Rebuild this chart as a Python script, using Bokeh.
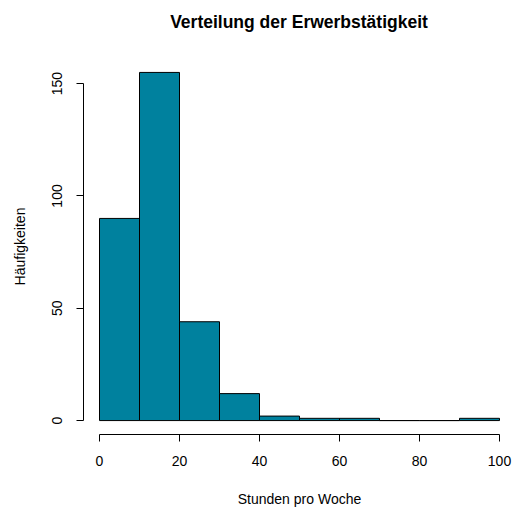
import math
from bokeh.plotting import figure
from bokeh.layouts import column, row
from bokeh.embed import file_html
from bokeh.resources import INLINE
from bokeh.models import FixedTicker, Range1d
from bokeh.core.properties import value

# Data
breaks = [0, 10, 20, 30, 40, 50, 60, 70, 80, 90, 100]
counts = [90, 155, 44, 12, 2, 1, 1, 0, 0, 1]
x_ticks = [0, 20, 40, 60, 80, 100]
y_ticks = [0, 50, 100, 150]
y_tick_labels = ["0", "50", "100", "150"]
title_text = "Verteilung der Erwerbstätigkeit"
xlab = "Stunden pro Woche"
ylab = "Häufigkeiten"

FONT = "Liberation Sans"
x_lo, x_hi = -4, 104
y_lo, y_hi = -6.2, 161.2

W, H = 516, 509
TOP = 58       # space above the plotting region
LEFT = 76      # width of the strip that holds the y labels
BOTTOM = 75

yr = Range1d(y_lo, y_hi)

# ---- title strip ----
t = figure(width=W, height=TOP, output_backend="svg", toolbar_location=None,
           x_range=Range1d(0, W), y_range=Range1d(0, TOP),
           x_axis_type=None, y_axis_type=None,
           min_border_left=0, min_border_right=0, min_border_top=0, min_border_bottom=0)
t.outline_line_color = None
t.grid.visible = False
t.text(x=[298.5], y=[TOP - 21], text=[title_text],
       text_align=value("center"), text_baseline=value("middle"),
       text_font=value(FONT), text_font_size=value("17.5px"),
       text_font_style=value("bold"), text_color=value("black"))

# ---- left strip with y tick labels and y title ----
l = figure(width=LEFT, height=H - TOP, output_backend="svg", toolbar_location=None,
           x_range=Range1d(0, LEFT), y_range=yr,
           x_axis_type=None, y_axis_type=None,
           min_border_left=0, min_border_right=0, min_border_top=0, min_border_bottom=BOTTOM)
l.outline_line_color = None
l.grid.visible = False
l.text(x=[56] * len(y_ticks), y=y_ticks, text=y_tick_labels, angle=math.pi / 2,
       text_align=value("center"), text_baseline=value("middle"),
       text_font=value(FONT), text_font_size=value("14px"), text_color=value("black"))
l.text(x=[19], y=[(y_lo + y_hi) / 2], text=[ylab], angle=math.pi / 2,
       text_align=value("center"), text_baseline=value("middle"),
       text_font=value(FONT), text_font_size=value("14px"), text_color=value("black"))

# ---- main histogram ----
p = figure(width=W - LEFT, height=H - TOP, output_backend="svg", toolbar_location=None,
           x_range=Range1d(x_lo, x_hi), y_range=yr,
           min_border_left=7, min_border_right=1, min_border_top=0, min_border_bottom=BOTTOM)

p.quad(left=breaks[:-1], right=breaks[1:], bottom=0, top=counts,
       fill_color="#00819E", line_color="black", line_width=1)

p.grid.visible = False
p.outline_line_color = None

for ax in (p.xaxis[0], p.yaxis[0]):
    ax.axis_line_color = "black"
    ax.major_tick_line_color = "black"
    ax.minor_tick_line_color = None
    ax.major_tick_in = 0
    ax.major_tick_out = 7
    ax.major_label_text_font = FONT
    ax.major_label_text_font_size = "14px"
    ax.major_label_text_color = "black"
    ax.axis_label_text_font = FONT
    ax.axis_label_text_font_size = "14px"
    ax.axis_label_text_font_style = "normal"
    ax.axis_label_text_color = "black"

p.xaxis.ticker = FixedTicker(ticks=x_ticks)
p.xaxis.bounds = (0, 100)
p.xaxis.axis_label = xlab
p.xaxis.major_label_standoff = 14
p.xaxis.axis_label_standoff = 22

p.yaxis.ticker = FixedTicker(ticks=y_ticks)
p.yaxis.bounds = (0, 150)
p.yaxis.major_label_overrides = {tk: "" for tk in y_ticks}
p.yaxis.major_label_text_font_size = "0px"
p.yaxis.major_label_standoff = 0

layout = column(t, row(l, p, spacing=0), spacing=0)

open("out.html", "w").write(file_html(layout, INLINE))
